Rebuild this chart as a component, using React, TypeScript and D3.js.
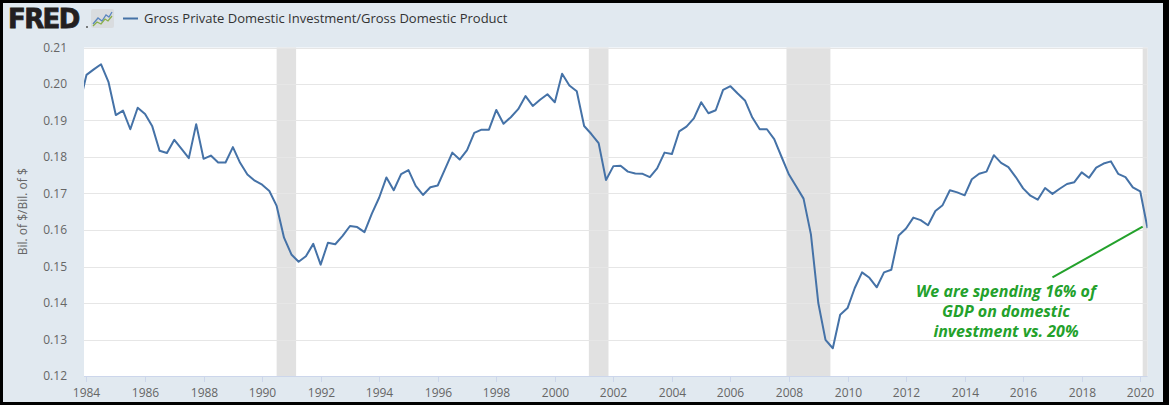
import { useEffect, useRef } from 'react';
import * as d3 from 'd3';

// quarterly series, first point is 1983 Q4 (clipped at the left edge)
const FIRST_QUARTER = new Date(1983, 9, 1);
const RATIO = [
  0.194,
  0.2025, 0.204, 0.2054, 0.2006,
  0.1915, 0.1927, 0.1876, 0.1935,
  0.1918, 0.1884, 0.1817, 0.1811,
  0.1847, 0.1822, 0.1797, 0.189,
  0.1795, 0.1804, 0.1785, 0.1785,
  0.1827, 0.1784, 0.1752, 0.1735,
  0.1724, 0.1707, 0.1666, 0.1579,
  0.1533, 0.1513, 0.1528, 0.1562,
  0.1505, 0.1565, 0.1561, 0.1584,
  0.1611, 0.1608, 0.1594, 0.1645,
  0.1689, 0.1744, 0.1709, 0.1753,
  0.1764, 0.1721, 0.1696, 0.1717,
  0.1722, 0.1767, 0.1812, 0.1793,
  0.1819, 0.1866, 0.1875, 0.1875,
  0.1929, 0.1891, 0.1909, 0.1931,
  0.1967, 0.194, 0.1957, 0.1972,
  0.195, 0.2028, 0.1996, 0.198,
  0.1885, 0.1863, 0.1838, 0.1737,
  0.1775, 0.1776, 0.176, 0.1755,
  0.1754, 0.1745, 0.1769, 0.1812,
  0.1808, 0.187, 0.1883, 0.1906,
  0.195, 0.192, 0.1928, 0.1984,
  0.1994, 0.1974, 0.1955, 0.1908,
  0.1876, 0.1876, 0.1849, 0.18,
  0.1752, 0.1719, 0.1686, 0.1588,
  0.14, 0.1299, 0.1276, 0.1368,
  0.1386, 0.1441, 0.1484, 0.1469,
  0.1443, 0.1484, 0.1491, 0.1585,
  0.1604, 0.1634, 0.1627, 0.1613,
  0.1652, 0.1668, 0.1709, 0.1703,
  0.1695, 0.1739, 0.1754, 0.176,
  0.1805, 0.1784, 0.1772, 0.1745,
  0.1714, 0.1694, 0.1683, 0.1715,
  0.1699, 0.1713, 0.1726, 0.1731,
  0.1758, 0.1743, 0.1771, 0.1782,
  0.1788, 0.1754, 0.1745, 0.1717,
  0.1706, 0.1605,
];

const RECESSIONS: [string, string][] = [
  ['1990-07-01', '1991-03-01'],
  ['2001-03-01', '2001-11-01'],
  ['2007-12-01', '2009-06-01'],
  ['2020-02-01', '2020-04-01'],
];

const Y_TICKS = [0.12, 0.13, 0.14, 0.15, 0.16, 0.17, 0.18, 0.19, 0.2, 0.21];
const X_TICK_YEARS = d3.range(1984, 2021, 2);

const TITLE = 'Gross Private Domestic Investment/Gross Domestic Product';
const Y_LABEL = 'Bil. of $/Bil. of $';
const NOTE_LINES = ['We are spending 16% of', 'GDP on domestic', 'investment vs. 20%'];

const W = 1169;
const H = 405;
const PLOT = { left: 84, right: 1147.5, top: 47.5, bottom: 376 };
const FONT = "'Open Sans', 'DejaVu Sans', sans-serif";

export default function App() {
  const svgRef = useRef<SVGSVGElement>(null);

  useEffect(() => {
    const svg = d3.select(svgRef.current!);
    svg.selectAll('*').remove();

    const x = d3
      .scaleTime()
      .domain([new Date(1983, 11, 1), new Date(2020, 3, 1)])
      .range([PLOT.left, PLOT.right]);
    const y = d3.scaleLinear().domain([0.12, 0.21]).range([PLOT.bottom, PLOT.top]);

    const points = RATIO.map((v, i) => ({ date: d3.timeMonth.offset(FIRST_QUARTER, i * 3), v }));

    // frame
    svg.append('rect').attr('width', W).attr('height', H).attr('fill', '#000');
    svg.append('rect').attr('x', 3).attr('y', 3).attr('width', W - 9).attr('height', H - 6).attr('fill', '#e1e9f0');

    svg.append('clipPath').attr('id', 'plotclip')
      .append('rect')
      .attr('x', PLOT.left).attr('y', PLOT.top)
      .attr('width', PLOT.right - PLOT.left).attr('height', PLOT.bottom - PLOT.top);

    svg.append('rect')
      .attr('x', PLOT.left).attr('y', PLOT.top)
      .attr('width', PLOT.right - PLOT.left).attr('height', PLOT.bottom - PLOT.top)
      .attr('fill', '#fff');

    // recession bars
    svg.append('g').selectAll('rect').data(RECESSIONS).join('rect')
      .attr('x', (d) => x(new Date(d[0])))
      .attr('y', PLOT.top)
      .attr('width', (d) => x(new Date(d[1])) - x(new Date(d[0])))
      .attr('height', PLOT.bottom - PLOT.top)
      .attr('fill', '#e1e1e1');

    // grid
    svg.append('g').selectAll('line').data(Y_TICKS.slice(1)).join('line')
      .attr('x1', PLOT.left).attr('x2', PLOT.right)
      .attr('y1', (d) => Math.round(y(d)) + 0.5).attr('y2', (d) => Math.round(y(d)) + 0.5)
      .attr('stroke', '#e6e6e6');

    // bottom axis
    svg.append('line')
      .attr('x1', PLOT.left).attr('x2', PLOT.right)
      .attr('y1', PLOT.bottom + 0.5).attr('y2', PLOT.bottom + 0.5)
      .attr('stroke', '#ccd6eb');
    const xt = svg.append('g').selectAll('g').data(X_TICK_YEARS).join('g')
      .attr('transform', (d) => `translate(${Math.round(x(new Date(d, 0, 1))) + 0.5},0)`);
    xt.append('line').attr('y1', PLOT.bottom).attr('y2', PLOT.bottom + 6).attr('stroke', '#ccd6eb');
    xt.append('text')
      .attr('y', 397).attr('text-anchor', 'middle')
      .attr('font-family', FONT).attr('font-size', 12).attr('fill', '#666')
      .text((d) => String(d));

    svg.append('g').selectAll('text').data(Y_TICKS).join('text')
      .attr('x', 67).attr('y', (d) => y(d) + 4)
      .attr('text-anchor', 'end')
      .attr('font-family', FONT).attr('font-size', 12).attr('fill', '#666')
      .text((d) => d.toFixed(2));

    svg.append('text')
      .attr('transform', `translate(27,${(PLOT.top + PLOT.bottom) / 2}) rotate(-90)`)
      .attr('text-anchor', 'middle')
      .attr('font-family', FONT).attr('font-size', 12).attr('fill', '#666')
      .text(Y_LABEL);

    // series
    const line = d3.line<{ date: Date; v: number }>().x((d) => x(d.date)).y((d) => y(d.v));
    svg.append('path')
      .datum(points)
      .attr('clip-path', 'url(#plotclip)')
      .attr('d', line)
      .attr('fill', 'none')
      .attr('stroke', '#4572a7')
      .attr('stroke-width', 2)
      .attr('stroke-linejoin', 'round');

    // header: logo + legend
    svg.append('text')
      .attr('x', 8).attr('y', 27.5)
      .attr('font-family', "'DejaVu Sans', sans-serif").attr('font-weight', 900)
      .attr('font-size', 26).attr('letter-spacing', -1.6).attr('fill', '#231f20')
      .attr('stroke', '#231f20').attr('stroke-width', 0.8)
      .text('FRED');
    svg.append('circle').attr('cx', 87).attr('cy', 27).attr('r', 1).attr('fill', '#555');
    const icon = svg.append('g').attr('transform', 'translate(91,9)');
    icon.append('rect').attr('width', 23).attr('height', 19).attr('rx', 2).attr('fill', '#d9dcdf');
    icon.append('path').attr('d', 'M2,15 L7,9 L11,12 L15,6 L18,8 L21,3').attr('fill', 'none').attr('stroke', '#5b86c0').attr('stroke-width', 1.3);
    icon.append('path').attr('d', 'M2,17 L6,13 L10,15 L14,10 L17,12 L21,7').attr('fill', 'none').attr('stroke', '#8ab04a').attr('stroke-width', 1.3);

    svg.append('line').attr('x1', 123).attr('x2', 138).attr('y1', 18.5).attr('y2', 18.5)
      .attr('stroke', '#4572a7').attr('stroke-width', 2);
    svg.append('text')
      .attr('x', 144).attr('y', 23)
      .attr('font-family', FONT).attr('font-size', 13).attr('fill', '#333')
      .text(TITLE);

    // annotation
    const green = '#23a12b';
    svg.append('line')
      .attr('x1', x(new Date(2017, 0, 1))).attr('y1', y(0.147))
      .attr('x2', x(new Date(2020, 1, 1))).attr('y2', y(0.1609))
      .attr('stroke', green).attr('stroke-width', 2);
    svg.append('g').selectAll('text').data(NOTE_LINES).join('text')
      .attr('x', 1006).attr('y', (_, i) => 297 + i * 20)
      .attr('text-anchor', 'middle')
      .attr('font-family', FONT).attr('font-weight', 700).attr('font-style', 'italic')
      .attr('font-size', 16).attr('fill', green)
      .text((d) => d);
  }, []);

  return (
    <svg
      ref={svgRef}
      width={W}
      height={H}
      style={{ position: 'absolute', left: 0, top: 0, display: 'block' }}
    />
  );
}
